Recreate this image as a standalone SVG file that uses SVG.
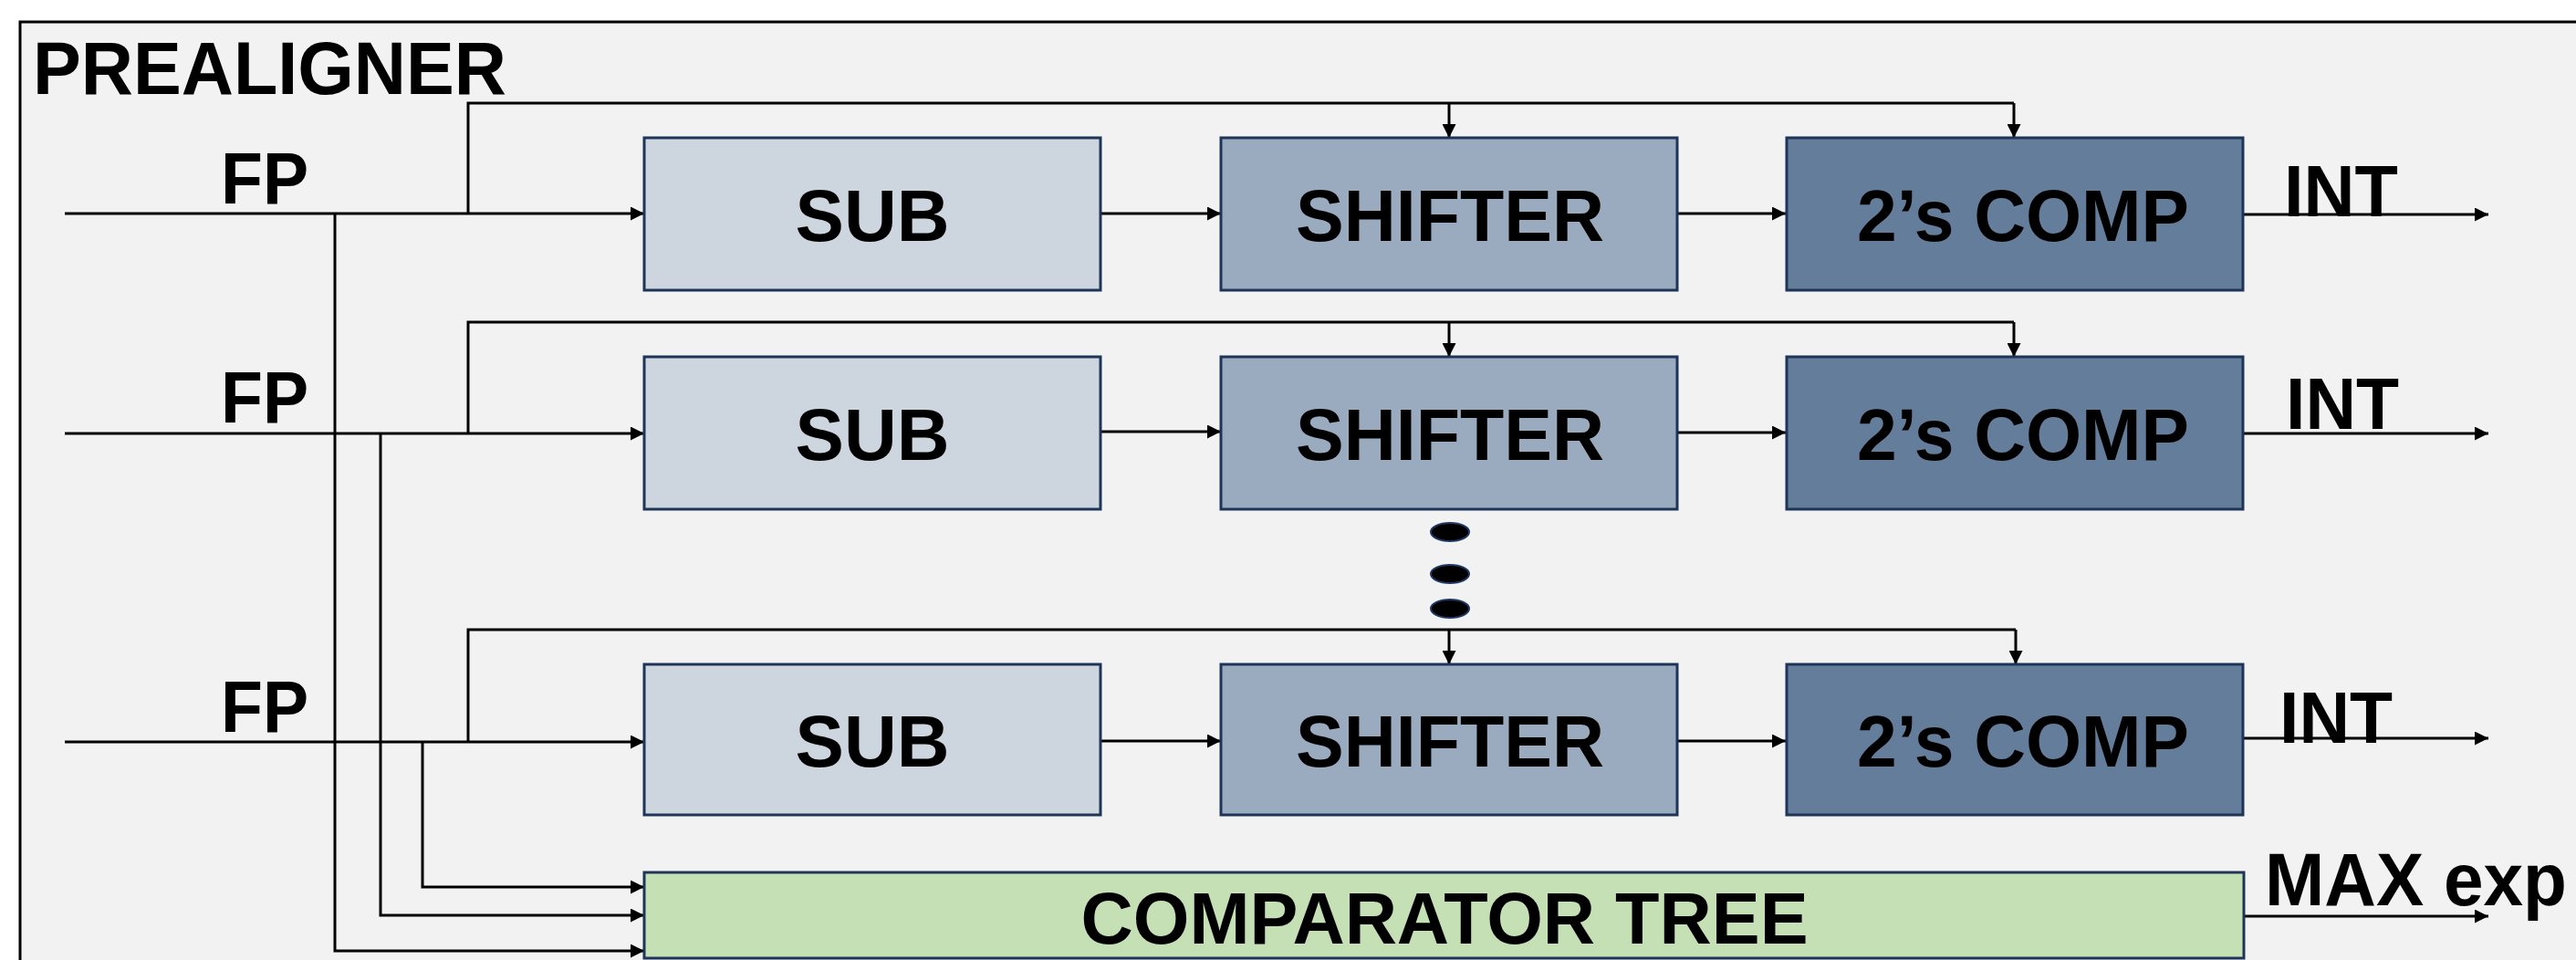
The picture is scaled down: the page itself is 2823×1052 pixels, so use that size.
<svg xmlns="http://www.w3.org/2000/svg" width="2823" height="1052" viewBox="0 0 2823 1052">
  <defs>
    <marker id="ah" viewBox="0 0 10 10" refX="10" refY="5" markerWidth="16" markerHeight="15" markerUnits="userSpaceOnUse" orient="auto">
      <path d="M0,0 L10,5 L0,10 z" fill="#000"/>
    </marker>
    <style>
      .lbl { font-family: "Liberation Sans", Arial, sans-serif; font-weight: bold; fill: #000; }
      .box { stroke: #1f3558; stroke-width: 3; }
      .sub { fill: #cdd5df; }
      .shf { fill: #9aaabf; }
      .cmp { fill: #647d9b; }
      .tree { fill: #c5e0b4; }
      .wire { fill: none; stroke: #000; stroke-width: 3; }
      .arr { fill: none; stroke: #000; stroke-width: 3; marker-end: url(#ah); }
      .dot { fill: #000; stroke: #1f3864; stroke-width: 2; }
    </style>
  </defs>

  <rect x="0" y="0" width="2823" height="1052" fill="#fff"/>
  <!-- enclosing block: panel fill, then its left and top borders -->
  <rect x="22" y="24" width="2810" height="1040" fill="#f2f2f2"/>
  <path d="M22,1060 V24 H2830" fill="none" stroke="#000" stroke-width="3"/>
  <text class="lbl" x="36" y="103" font-size="81" textLength="519" lengthAdjust="spacingAndGlyphs">PREALIGNER</text>

  <!-- connectors -->
  <g id="connectors">
    <!-- row 1 -->
    <line class="arr" x1="71" y1="234" x2="706" y2="234"/>
    <polyline class="wire" points="513,234 513,113 2207,113"/>
    <line class="arr" x1="1588" y1="113" x2="1588" y2="151"/>
    <line class="arr" x1="2207" y1="113" x2="2207" y2="151"/>
    <line class="arr" x1="1206" y1="234" x2="1338" y2="234"/>
    <line class="arr" x1="1838" y1="234" x2="1957" y2="234"/>
    <line class="arr" x1="2459" y1="235" x2="2727" y2="235"/>
    <polyline class="arr" points="367,234 367,1042 706,1042"/>

    <!-- row 2 -->
    <line class="arr" x1="71" y1="475" x2="706" y2="475"/>
    <polyline class="wire" points="513,475 513,353 2207,353"/>
    <line class="arr" x1="1588" y1="353" x2="1588" y2="391"/>
    <line class="arr" x1="2207" y1="353" x2="2207" y2="391"/>
    <line class="arr" x1="1206" y1="473" x2="1338" y2="473"/>
    <line class="arr" x1="1838" y1="474" x2="1957" y2="474"/>
    <line class="arr" x1="2459" y1="475" x2="2727" y2="475"/>
    <polyline class="arr" points="417,475 417,1003 706,1003"/>

    <!-- row 3 -->
    <line class="arr" x1="71" y1="813" x2="706" y2="813"/>
    <polyline class="wire" points="513,813 513,690 2209,690"/>
    <line class="arr" x1="1588" y1="690" x2="1588" y2="728"/>
    <line class="arr" x1="2209" y1="690" x2="2209" y2="728"/>
    <line class="arr" x1="1206" y1="812" x2="1338" y2="812"/>
    <line class="arr" x1="1838" y1="812" x2="1957" y2="812"/>
    <line class="arr" x1="2459" y1="809" x2="2727" y2="809"/>
    <polyline class="arr" points="463,813 463,972 706,972"/>

    <!-- comparator output -->
    <line class="arr" x1="2459" y1="1004" x2="2727" y2="1004"/>
  </g>

  <!-- input / output labels -->
  <g id="labels">
    <text class="lbl" x="242" y="223" font-size="80" textLength="96" lengthAdjust="spacingAndGlyphs">FP</text>
    <text class="lbl" x="242" y="463" font-size="80" textLength="96" lengthAdjust="spacingAndGlyphs">FP</text>
    <text class="lbl" x="242" y="802" font-size="80" textLength="96" lengthAdjust="spacingAndGlyphs">FP</text>
    <text class="lbl" x="2503" y="237" font-size="80" textLength="125" lengthAdjust="spacingAndGlyphs">INT</text>
    <text class="lbl" x="2505" y="470" font-size="80" textLength="124" lengthAdjust="spacingAndGlyphs">INT</text>
    <text class="lbl" x="2498" y="814" font-size="80" textLength="124" lengthAdjust="spacingAndGlyphs">INT</text>
    <text class="lbl" x="2482" y="992" font-size="82" textLength="331" lengthAdjust="spacingAndGlyphs">MAX exp</text>
  </g>

  <!-- lane 1 -->
  <g id="sub1"><rect class="box sub" x="706" y="151" width="500" height="167"/><text class="lbl" x="956" y="264" font-size="80" text-anchor="middle">SUB</text></g>
  <g id="shifter1"><rect class="box shf" x="1338" y="151" width="500" height="167"/><text class="lbl" x="1589" y="264" font-size="80" text-anchor="middle" textLength="338" lengthAdjust="spacingAndGlyphs">SHIFTER</text></g>
  <g id="comp1"><rect class="box cmp" x="1958" y="151" width="500" height="167"/><text class="lbl" x="2217" y="264" font-size="80" text-anchor="middle" textLength="364" lengthAdjust="spacingAndGlyphs">2’s COMP</text></g>

  <!-- lane 2 -->
  <g id="sub2"><rect class="box sub" x="706" y="391" width="500" height="167"/><text class="lbl" x="956" y="504" font-size="80" text-anchor="middle">SUB</text></g>
  <g id="shifter2"><rect class="box shf" x="1338" y="391" width="500" height="167"/><text class="lbl" x="1589" y="504" font-size="80" text-anchor="middle" textLength="338" lengthAdjust="spacingAndGlyphs">SHIFTER</text></g>
  <g id="comp2"><rect class="box cmp" x="1958" y="391" width="500" height="167"/><text class="lbl" x="2217" y="504" font-size="80" text-anchor="middle" textLength="364" lengthAdjust="spacingAndGlyphs">2’s COMP</text></g>

  <!-- continuation dots -->
  <g id="ellipsis">
    <ellipse class="dot" cx="1589" cy="583" rx="21" ry="10"/>
    <ellipse class="dot" cx="1589" cy="629" rx="21" ry="10"/>
    <ellipse class="dot" cx="1589" cy="667" rx="21" ry="10"/>
  </g>

  <!-- lane N -->
  <g id="sub3"><rect class="box sub" x="706" y="728" width="500" height="165"/><text class="lbl" x="956" y="840" font-size="80" text-anchor="middle">SUB</text></g>
  <g id="shifter3"><rect class="box shf" x="1338" y="728" width="500" height="165"/><text class="lbl" x="1589" y="840" font-size="80" text-anchor="middle" textLength="338" lengthAdjust="spacingAndGlyphs">SHIFTER</text></g>
  <g id="comp3"><rect class="box cmp" x="1958" y="728" width="500" height="165"/><text class="lbl" x="2217" y="840" font-size="80" text-anchor="middle" textLength="364" lengthAdjust="spacingAndGlyphs">2’s COMP</text></g>

  <!-- comparator tree -->
  <g id="comparator"><rect class="box tree" x="706" y="956" width="1753" height="94"/><text class="lbl" x="1583" y="1034" font-size="80" text-anchor="middle" textLength="797" lengthAdjust="spacingAndGlyphs">COMPARATOR TREE</text></g>
</svg>
